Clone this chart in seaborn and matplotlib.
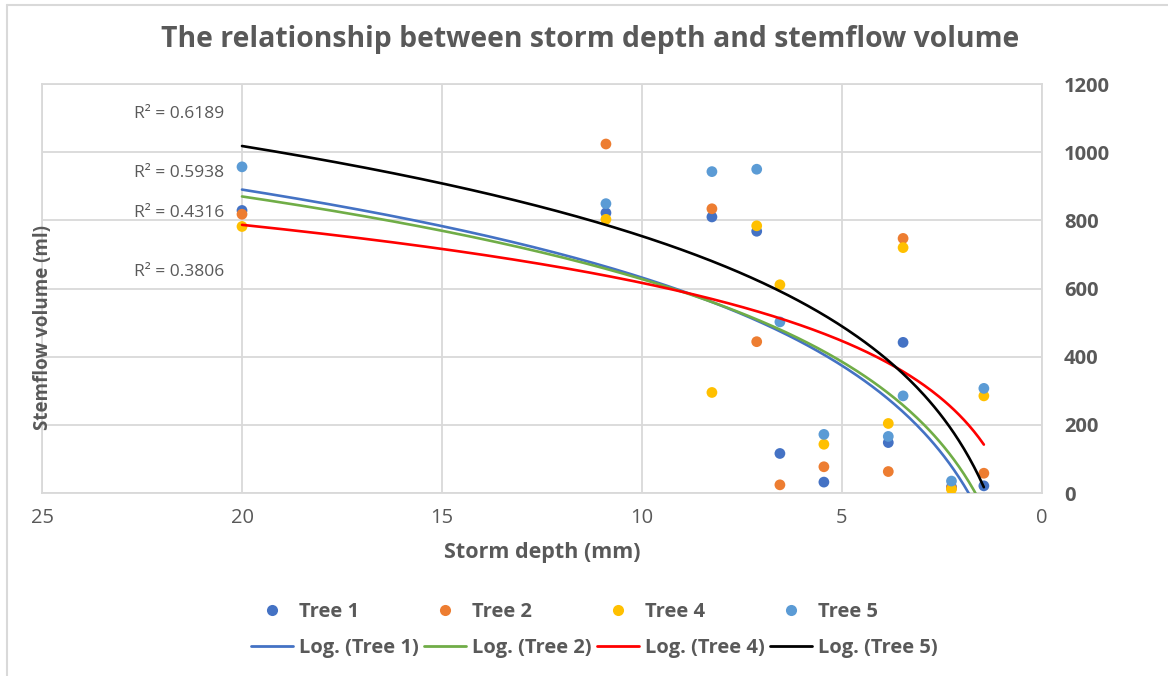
#!/usr/bin/env python3
"""Storm depth vs stemflow volume, with log trendlines per tree."""

import numpy as np
import pandas as pd
import matplotlib
matplotlib.use("Agg")
import matplotlib.pyplot as plt
from matplotlib.lines import Line2D
import seaborn as sns

# Data
storm_depth = [20, 10.9, 8.25, 7.13, 6.55, 5.45, 3.84, 3.47, 2.26, 1.45]
tree_1 = [829, 822, 810, 768, 116, 32, 148, 442, 18, 21]
tree_2 = [818, 1024, 834, 444, 24, 77, 63, 747, 14, 58]
tree_4 = [782, 803, 295, 784, 611, 143, 204, 720, 11, 285]
tree_5 = [957, 849, 943, 950, 502, 172, 166, 285, 35, 307]

tree_names = ["Tree 1", "Tree 2", "Tree 4", "Tree 5"]
r2_labels = ["R² = 0.6189", "R² = 0.5938", "R² = 0.4316", "R² = 0.3806"]

point_colors = ["#4472C4", "#ED7D31", "#FFC000", "#5B9BD5"]
trend_colors = ["#4472C4", "#70AD47", "#FF0000", "#000000"]
GRAY = "#595959"
GRID = "#D9D9D9"

sns.set_style("white")
plt.rcParams["font.family"] = ["Open Sans", "DejaVu Sans"]

# Long-form table for seaborn
series = [tree_1, tree_2, tree_4, tree_5]
points = pd.DataFrame({
    "depth": storm_depth * 4,
    "volume": sum(series, []),
    "tree": np.repeat(tree_names, len(storm_depth)),
})

# Excel-style logarithmic trendlines: y = a ln(x) + b over the data range
xs = np.linspace(min(storm_depth), max(storm_depth), 300)
trend_rows = []
for name, ys in zip(tree_names, series):
    a, b = np.polyfit(np.log(storm_depth), ys, 1)
    trend_rows.append(pd.DataFrame({"depth": xs, "volume": a * np.log(xs) + b,
                                    "tree": f"Log. ({name})"}))
trends = pd.concat(trend_rows, ignore_index=True)

fig = plt.figure(figsize=(11.68, 6.76), dpi=100)
ax = fig.add_axes([0.036, 0.2707, 0.856, 0.605])

sns.scatterplot(data=points, x="depth", y="volume", hue="tree",
                palette=point_colors, s=60, linewidth=0, ax=ax, legend=False, zorder=3)
sns.lineplot(data=trends, x="depth", y="volume", hue="tree",
             palette=trend_colors, linewidth=1.9, ax=ax, legend=False, zorder=4,
             sort=False, estimator=None)

ax.set_xlim(25, 0)
ax.set_ylim(0, 1200)
ax.set_xticks([25, 20, 15, 10, 5, 0])
ax.set_yticks(range(0, 1201, 200))
ax.yaxis.tick_right()
ax.tick_params(axis="both", length=0, colors=GRAY)
ax.tick_params(axis="x", pad=11, labelsize=14.5)
ax.tick_params(axis="y", pad=16, labelsize=14.5)
for lab in ax.get_yticklabels():
    lab.set_fontweight("bold")
ax.grid(True, color=GRID, linewidth=1.3)
for sp in ax.spines.values():
    sp.set_color(GRID)
    sp.set_linewidth(1.3)
ax.set_xlabel("")
ax.set_ylabel("")

# R² labels, placed by hand like the original
r2_y = [1112, 938, 821, 647]
for txt, yv in zip(r2_labels, r2_y):
    ax.text(20.45, yv, txt, ha="right", va="center", fontsize=12.5, color=GRAY)

fig.text(0.505, 0.941, "The relationship between storm depth and stemflow volume",
         ha="center", va="center", fontsize=20.4, fontweight="bold", color=GRAY)
fig.text(0.464, 0.182, "Storm depth (mm)", ha="center", va="center",
         fontsize=15.5, fontweight="bold", color=GRAY)
fig.text(0.037, 0.516, "Stemflow volume (ml)", ha="center", va="center",
         rotation=90, fontsize=13.5, fontweight="bold", color=GRAY)

# Legend: 4 columns, markers on top row, trendlines below
handles, labels = [], []
for name, pc, tc in zip(tree_names, point_colors, trend_colors):
    handles.append(Line2D([], [], marker="o", linestyle="", markersize=8,
                          markerfacecolor=pc, markeredgewidth=0))
    labels.append(name)
    handles.append(Line2D([], [], color=tc, linewidth=2))
    labels.append(f"Log. ({name})")
leg = fig.legend(handles, labels, ncol=4, loc="center", bbox_to_anchor=(0.509, 0.068),
                 frameon=False, fontsize=14.5, handlelength=2.1, handletextpad=0.3,
                 columnspacing=0.25, labelspacing=0.75)
for t in leg.get_texts():
    t.set_color(GRAY)
    t.set_fontweight("bold")

# Chart-area border (left and top visible in the original crop)
fig.add_artist(Line2D([7 / 1168, 7 / 1168], [0, 1 - 5 / 676], color=GRID, linewidth=1.5))
fig.add_artist(Line2D([7 / 1168, 1], [1 - 5 / 676, 1 - 5 / 676], color=GRID, linewidth=1.5))

fig.savefig("out.png", dpi=100)
